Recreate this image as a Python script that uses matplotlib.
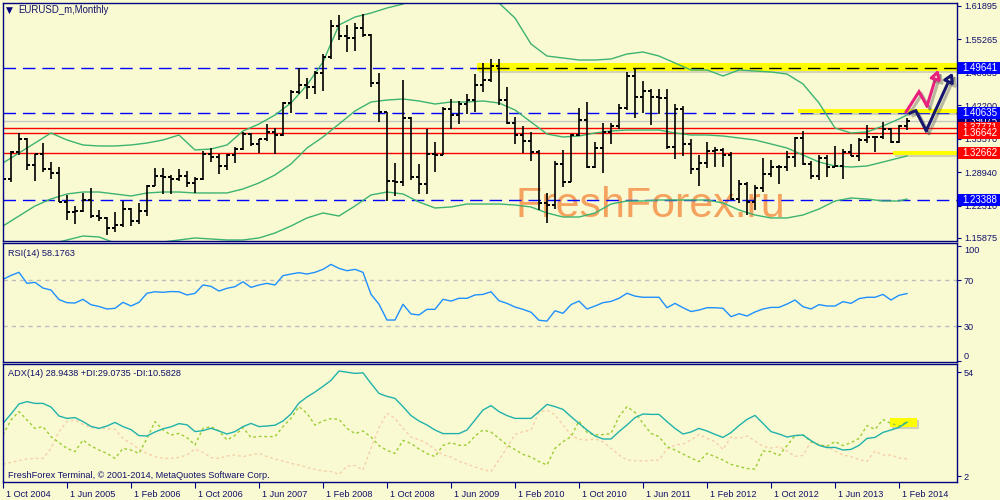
import numpy as np
import matplotlib
matplotlib.use('Agg')
import matplotlib.pyplot as plt
import matplotlib.patheffects as pe
from matplotlib.patches import Rectangle, FancyArrowPatch
from matplotlib.transforms import blended_transform_factory, ScaledTranslation

plt.rcParams['font.family'] = ['Liberation Sans', 'DejaVu Sans']

# monthly EURUSD bars, Oct 2004 .. Mar 2014
opens = [1.2417, 1.2755, 1.3295, 1.3554, 1.3036, 1.3259, 1.2962, 1.2868, 1.2302, 1.2097,
         1.2126, 1.2338, 1.2025, 1.1987, 1.1789, 1.1841, 1.2158, 1.1920, 1.2118, 1.2624,
         1.2813, 1.2790, 1.2764, 1.2813, 1.2683, 1.2763, 1.3248, 1.3200, 1.3021, 1.3232,
         1.3353, 1.3651, 1.3452, 1.3542, 1.3693, 1.3632, 1.4261, 1.4490, 1.4629, 1.4588,
         1.4858, 1.5176, 1.5786, 1.5592, 1.5550, 1.5754, 1.5612, 1.4670, 1.4083, 1.2720,
         1.2693, 1.3971, 1.2800, 1.2664, 1.3244, 1.3237, 1.4153, 1.4029, 1.4245, 1.4325,
         1.4632, 1.4722, 1.5002, 1.4321, 1.3863, 1.3630, 1.3511, 1.3292, 1.2272, 1.2238,
         1.3050, 1.2703, 1.3632, 1.3921, 1.2986, 1.3370, 1.3690, 1.3800, 1.4160, 1.4807,
         1.4389, 1.4505, 1.4385, 1.4370, 1.3387, 1.4139, 1.3447, 1.2958, 1.3075, 1.3317,
         1.3341, 1.3234, 1.2368, 1.2667, 1.2308, 1.2575, 1.2860, 1.2986, 1.2988, 1.3193,
         1.3579, 1.3060, 1.2820, 1.3166, 1.3002, 1.3010, 1.3302, 1.3220, 1.3524, 1.3585,
         1.3590, 1.3743, 1.3487, 1.3803]
highs = [1.2779, 1.3320, 1.3667, 1.3572, 1.3261, 1.3478, 1.3091, 1.2989, 1.2431, 1.2219,
         1.2473, 1.2588, 1.2150, 1.2011, 1.2093, 1.2323, 1.2191, 1.2287, 1.2629, 1.2980,
         1.2977, 1.2840, 1.2957, 1.2908, 1.2789, 1.3303, 1.3366, 1.3262, 1.3257, 1.3384,
         1.3682, 1.3660, 1.3542, 1.3852, 1.3778, 1.4281, 1.4528, 1.4967, 1.4752, 1.4900,
         1.5237, 1.5905, 1.6019, 1.5818, 1.5844, 1.6038, 1.5628, 1.4867, 1.4090, 1.3082,
         1.4720, 1.3988, 1.3056, 1.3740, 1.3483, 1.4193, 1.4337, 1.4303, 1.4446, 1.4844,
         1.5063, 1.5144, 1.5145, 1.4579, 1.3990, 1.3815, 1.3694, 1.3323, 1.2471, 1.3115,
         1.3334, 1.3650, 1.4158, 1.4282, 1.3500, 1.3860, 1.3861, 1.4250, 1.4882, 1.4940,
         1.4699, 1.4535, 1.4549, 1.4549, 1.4247, 1.4200, 1.3549, 1.3234, 1.3487, 1.3386,
         1.3381, 1.3284, 1.2747, 1.2692, 1.2638, 1.3171, 1.3140, 1.3029, 1.3308, 1.3590,
         1.3711, 1.3109, 1.3243, 1.3242, 1.3417, 1.3345, 1.3452, 1.3569, 1.3832, 1.3620,
         1.3893, 1.3775, 1.3825, 1.3967]
lows = [1.2290, 1.2693, 1.3225, 1.2936, 1.2727, 1.2888, 1.2764, 1.2297, 1.1953, 1.1868,
        1.2094, 1.1989, 1.1915, 1.1640, 1.1708, 1.1800, 1.1824, 1.1860, 1.2032, 1.2610,
        1.2457, 1.2459, 1.2716, 1.2608, 1.2483, 1.2743, 1.3100, 1.2866, 1.2935, 1.3068,
        1.3330, 1.3414, 1.3267, 1.3514, 1.3261, 1.3607, 1.4070, 1.4435, 1.4336, 1.4442,
        1.4496, 1.5138, 1.5516, 1.5285, 1.5304, 1.5577, 1.4583, 1.3882, 1.2329, 1.2424,
        1.2611, 1.2732, 1.2456, 1.2457, 1.2887, 1.3235, 1.3745, 1.3845, 1.4044, 1.4080,
        1.4480, 1.4672, 1.4220, 1.3857, 1.3444, 1.3267, 1.3115, 1.2143, 1.1876, 1.2152,
        1.2589, 1.2694, 1.3610, 1.2967, 1.2971, 1.2872, 1.3443, 1.3750, 1.4126, 1.3967,
        1.4069, 1.3836, 1.4050, 1.3358, 1.3145, 1.3211, 1.2858, 1.2624, 1.2972, 1.3003,
        1.3003, 1.2336, 1.2288, 1.2042, 1.2133, 1.2500, 1.2800, 1.2661, 1.2925, 1.3000,
        1.3036, 1.2750, 1.2745, 1.2795, 1.3000, 1.2755, 1.3219, 1.3105, 1.3480, 1.3295,
        1.3545, 1.3478, 1.3475, 1.3720]
closes = [1.2755, 1.3295, 1.3554, 1.3036, 1.3259, 1.2962, 1.2868, 1.2302, 1.2097, 1.2126,
          1.2338, 1.2025, 1.1987, 1.1789, 1.1841, 1.2158, 1.1920, 1.2118, 1.2624, 1.2813,
          1.2790, 1.2764, 1.2813, 1.2683, 1.2763, 1.3248, 1.3200, 1.3021, 1.3232, 1.3353,
          1.3651, 1.3452, 1.3542, 1.3693, 1.3632, 1.4261, 1.4490, 1.4629, 1.4588, 1.4858,
          1.5176, 1.5786, 1.5592, 1.5550, 1.5754, 1.5612, 1.4670, 1.4083, 1.2720, 1.2693,
          1.3971, 1.2800, 1.2664, 1.3244, 1.3237, 1.4153, 1.4029, 1.4245, 1.4325, 1.4632,
          1.4722, 1.5002, 1.4321, 1.3863, 1.3630, 1.3511, 1.3292, 1.2272, 1.2238, 1.3050,
          1.2703, 1.3632, 1.3921, 1.2986, 1.3370, 1.3690, 1.3800, 1.4160, 1.4807, 1.4389,
          1.4505, 1.4385, 1.4370, 1.3387, 1.4139, 1.3447, 1.2958, 1.3075, 1.3317, 1.3341,
          1.3234, 1.2368, 1.2667, 1.2308, 1.2575, 1.2860, 1.2986, 1.2988, 1.3193, 1.3579,
          1.3060, 1.2820, 1.3166, 1.3002, 1.3010, 1.3302, 1.3220, 1.3524, 1.3585, 1.3590,
          1.3743, 1.3487, 1.3803, 1.3907]

# bollinger bands every second bar
bb_idx = list(range(0, 113, 2)) + [113]
bb_up = [1.3075, 1.3273, 1.3471, 1.3670, 1.3531, 1.3432, 1.3412, 1.3412, 1.3432, 1.3471,
         1.3531, 1.3630, 1.3333, 1.3352, 1.3432, 1.3709, 1.3848, 1.4027, 1.4265, 1.4622,
         1.5078, 1.5813, 1.5971, 1.6050, 1.6150, 1.6229, 1.6400, 1.6550, 1.6600, 1.6550,
         1.6400, 1.6249, 1.5951, 1.5436, 1.5197, 1.5158, 1.5118, 1.5118, 1.5138, 1.5237,
         1.5277, 1.5197, 1.5058, 1.4920, 1.4920, 1.4801, 1.4920, 1.4900, 1.4880, 1.4840,
         1.4642, 1.4265, 1.3769, 1.3670, 1.3690, 1.3809, 1.3948, 1.4027]
bb_mid = [1.1825, 1.2023, 1.2222, 1.2361, 1.2460, 1.2499, 1.2499, 1.2460, 1.2420, 1.2480,
          1.2499, 1.2499, 1.2480, 1.2480, 1.2480, 1.2559, 1.2678, 1.2837, 1.3055, 1.3372,
          1.3591, 1.3848, 1.4106, 1.4285, 1.4324, 1.4344, 1.4305, 1.4245, 1.4285, 1.4285,
          1.4305, 1.4265, 1.4126, 1.3888, 1.3650, 1.3591, 1.3610, 1.3670, 1.3709, 1.3729,
          1.3729, 1.3729, 1.3670, 1.3630, 1.3630, 1.3610, 1.3571, 1.3531, 1.3452, 1.3372,
          1.3233, 1.3094, 1.3015, 1.2995, 1.3015, 1.3094, 1.3174, 1.3214]
bb_low = [1.1150, 1.1230, 1.1349, 1.1468, 1.1547, 1.1626, 1.1607, 1.1488, 1.1428, 1.1448,
          1.1507, 1.1547, 1.1587, 1.1567, 1.1547, 1.1547, 1.1587, 1.1686, 1.1825, 1.1984,
          1.2083, 1.2023, 1.2222, 1.2440, 1.2499, 1.2460, 1.2301, 1.2182, 1.2202, 1.2261,
          1.2261, 1.2261, 1.2241, 1.2202, 1.2083, 1.2003, 1.2003, 1.2083, 1.2261, 1.2321,
          1.2321, 1.2340, 1.2340, 1.2340, 1.2340, 1.2281, 1.2142, 1.2043, 1.1984, 1.1984,
          1.2043, 1.2162, 1.2321, 1.2380, 1.2360, 1.2321, 1.2321, 1.2360]

rsi = [70.6, 74.0, 76.7, 67.1, 68.0, 63.0, 61.3, 53.0, 50.3, 50.0,
       53.2, 48.5, 47.0, 44.8, 45.4, 50.6, 47.4, 50.6, 58.5, 59.8,
       59.3, 60.0, 59.8, 57.0, 58.4, 65.7, 64.5, 60.4, 62.8, 64.2,
       68.5, 63.6, 65.7, 67.1, 65.7, 73.8, 75.2, 76.4, 75.2, 76.7,
       79.3, 83.6, 80.1, 78.1, 79.3, 76.7, 57.6, 49.0, 35.2, 35.2,
       48.9, 40.5, 39.6, 44.5, 44.5, 53.2, 51.7, 54.1, 54.1, 57.0,
       57.5, 59.8, 52.0, 49.7, 46.5, 44.5, 42.0, 35.0, 34.3, 43.3,
       41.0, 48.6, 51.7, 44.8, 47.4, 50.3, 51.4, 54.1, 58.5, 56.0,
       55.0, 55.0, 55.0, 45.9, 49.7, 45.9, 42.6, 43.9, 45.9, 45.9,
       45.4, 38.1, 40.7, 38.7, 42.2, 44.8, 46.2, 46.2, 49.1, 52.6,
       46.8, 44.8, 48.6, 47.4, 47.4, 51.2, 49.7, 53.8, 55.0, 55.0,
       57.5, 52.6, 56.7, 58.2]

adx = [28.3, 33.0, 38.0, 39.2, 38.3, 38.3, 36.5, 32.0, 30.8, 31.2,
       29.2, 26.8, 25.8, 27.0, 28.8, 26.7, 25.2, 22.2, 22.0, 24.0,
       25.6, 26.6, 28.2, 27.6, 24.2, 24.7, 25.9, 24.5, 23.0, 24.2,
       26.7, 28.3, 26.7, 27.0, 27.4, 29.5, 33.0, 38.5, 41.5, 44.0,
       46.8, 49.8, 54.5, 53.9, 53.3, 53.6, 48.3, 43.3, 41.8, 40.8,
       36.7, 32.2, 29.5, 27.5, 25.0, 23.2, 23.2, 23.2, 25.0, 30.0,
       35.0, 37.2, 34.2, 32.2, 30.8, 30.8, 30.8, 34.2, 37.8, 36.7,
       35.3, 31.7, 28.3, 25.0, 22.0, 20.5, 20.5, 24.2, 27.5, 31.2,
       33.0, 32.8, 32.8, 29.2, 25.8, 23.0, 24.0, 25.8, 24.5, 22.8,
       21.3, 23.7, 27.2, 30.3, 32.3, 28.3, 24.2, 23.0, 21.5, 22.2,
       22.5, 19.7, 17.3, 16.2, 16.3, 15.0, 15.3, 17.3, 20.8, 21.3,
       23.8, 25.0, 26.3, 28.9]
plus_di = [22.5, 30.0, 34.2, 30.0, 25.8, 26.7, 21.7, 18.7, 15.8, 14.2,
           20.0, 17.0, 15.0, 13.3, 10.8, 15.8, 15.0, 13.3, 20.8, 29.2,
           25.0, 22.5, 23.3, 21.2, 17.5, 25.8, 26.7, 24.5, 20.0, 22.3,
           26.2, 21.3, 21.8, 21.7, 21.7, 26.7, 30.8, 36.7, 33.3, 27.5,
           29.5, 30.7, 30.3, 25.8, 23.2, 24.5, 21.5, 17.2, 14.8, 13.3,
           19.8, 18.3, 15.5, 13.2, 11.7, 17.3, 18.7, 17.3, 17.5, 22.0,
           25.0, 24.0, 20.8, 17.5, 15.2, 12.8, 11.5, 9.2, 7.5, 15.8,
           19.2, 21.7, 29.5, 23.8, 22.5, 22.7, 23.2, 31.7, 36.7, 33.8,
           28.3, 23.3, 21.7, 16.7, 15.0, 13.0, 11.0, 9.2, 13.3, 11.7,
           10.0, 7.8, 6.8, 5.7, 5.5, 14.5, 14.2, 12.2, 17.2, 22.2,
           22.5, 19.2, 17.7, 16.8, 19.2, 17.2, 18.7, 20.8, 27.2, 25.3,
           30.2, 28.3, 27.0, 29.1]
minus_di = [7.8, 8.8, 9.7, 10.5, 10.8, 10.8, 15.8, 24.2, 29.2, 30.0,
            27.8, 26.2, 25.8, 25.8, 25.3, 20.8, 18.3, 15.5, 13.2, 11.7,
            10.8, 10.8, 11.3, 12.5, 15.5, 13.8, 11.2, 10.8, 12.0, 12.5,
            11.7, 12.5, 13.3, 11.7, 10.5, 9.5, 8.3, 7.5, 6.3, 5.3,
            4.5, 4.2, 2.8, 7.0, 7.2, 5.0, 15.8, 26.2, 33.3, 30.8,
            25.8, 21.5, 20.2, 18.2, 15.3, 12.5, 11.5, 9.3, 8.0, 6.5,
            5.3, 4.2, 10.0, 16.2, 22.8, 24.2, 25.0, 33.8, 35.0, 32.5,
            27.5, 22.5, 20.3, 20.0, 20.5, 19.2, 15.8, 12.5, 10.0, 9.7,
            9.5, 9.8, 10.0, 15.5, 17.5, 18.0, 20.0, 22.8, 20.8, 19.2,
            15.2, 21.5, 20.8, 22.0, 19.5, 16.8, 16.0, 16.7, 14.5, 11.8,
            12.3, 19.2, 17.7, 16.7, 14.5, 12.5, 11.7, 10.2, 9.3, 14.5,
            12.5, 12.5, 11.0, 10.6]

date_idx = list(range(0, 113, 8))
date_labels = ['1 Oct 2004', '1 Jun 2005', '1 Feb 2006', '1 Oct 2006', '1 Jun 2007',
               '1 Feb 2008', '1 Oct 2008', '1 Jun 2009', '1 Feb 2010', '1 Oct 2010',
               '1 Jun 2011', '1 Feb 2012', '1 Oct 2012', '1 Jun 2013', '1 Feb 2014']
price_ticks = [1.61895, 1.55265, 1.48635, 1.42200, 1.35570, 1.28940, 1.22310, 1.15875]

red_levels = [1.37771, 1.36642, 1.32662]
blue_levels = [1.49641, 1.40635, 1.23388]
bid = 1.39075

# forecast arrows drawn on the chart (bar index, price)
pink_x = [112.9, 114.5, 115.5, 116.9]
pink_y = [1.4092, 1.4489, 1.4205, 1.4925]
navy_x = [113.4, 114.1, 115.4, 118.7]
navy_y = [1.4067, 1.4112, 1.3715, 1.4866]

bg = '#FAFAD2'
navy = '#000080'
txt = '#10106a'
green = '#3CB371'
fs = 6.6

fig = plt.figure(figsize=(10, 5), dpi=100, facecolor=bg)
L, W = 0.0025, 0.9545
ax = fig.add_axes([L, 0.518, W, 0.476], facecolor=bg)
ax_rsi = fig.add_axes([L, 0.276, W, 0.238], facecolor=bg)
ax_adx = fig.add_axes([L, 0.036, W, 0.236], facecolor=bg)

for a in (ax, ax_rsi, ax_adx):
    a.set_xlim(-0.06, 119.25)
    for s in a.spines.values():
        s.set_color(navy)
        s.set_linewidth(1)
    a.yaxis.tick_right()
    a.tick_params(axis='y', length=3, width=0.8, color=navy, labelcolor=txt,
                  labelsize=fs, pad=2, direction='out')
    a.tick_params(axis='x', bottom=False, labelbottom=False)

# ---------------- price panel
ax.set_ylim(1.1527, 1.6249)
ax.set_yticks(price_ticks)
ax.set_yticklabels(['%.5f' % p for p in price_ticks])

ax.text(80.9, 1.2003, 'FreshForex.ru', fontsize=31, color='#F5A25E',
        ha='center', va='baseline', zorder=0.5)

ax.axhline(bid, color='#C8C8C8', lw=1, zorder=1)
for lv in red_levels:
    ax.axhline(lv, color='#FF0000', lw=1, zorder=1.2)
for lv in blue_levels:
    ax.axhline(lv, color='#0000FF', lw=1, ls=(0, (9, 5)), zorder=1.2)

shadow = [pe.withSimplePatchShadow(offset=(1.5, -1.5), shadow_rgbFace='#8a8a8a', alpha=0.35)]
ax.add_patch(Rectangle((59.25, 1.4901), 61, 0.0152, fc='#FFFF00', ec='none',
                       zorder=1.4, path_effects=shadow))
ax.add_patch(Rectangle((99.4, 1.4068), 21, 0.0080, fc='#FFFF00', ec='none',
                       zorder=1.4, path_effects=shadow))
ax.add_patch(Rectangle((111.3, 1.3228), 9, 0.0092, fc='#FFFF00', ec='none',
                       zorder=1.4, path_effects=shadow))
ax.plot([59.25, 119.25], [1.49641, 1.49641], color='black', lw=1,
        ls=(0, (9, 5)), zorder=1.5)

ax.plot(bb_idx, bb_up, color=green, lw=1, zorder=1.6)
ax.plot(bb_idx, bb_mid, color=green, lw=1, zorder=1.6)
ax.plot(bb_idx, bb_low, color=green, lw=1, zorder=1.6)

idx = np.arange(len(closes))
ax.vlines(idx, lows, highs, color='black', lw=1.2, zorder=2)
ax.hlines(opens, idx - 0.42, idx, color='black', lw=1.2, zorder=2, antialiased=False)
ax.hlines(closes, idx, idx + 0.42, color='black', lw=1.2, zorder=2, antialiased=False)

line_shadow = [pe.SimpleLineShadow(offset=(2, -2), shadow_color='#555555', alpha=0.4), pe.Normal()]
for xs, ys, col in ((pink_x, pink_y, '#E8207E'), (navy_x, navy_y, '#16166E')):
    ax.plot(xs[:-1], ys[:-1], color=col, lw=2.2, zorder=3, solid_joinstyle='miter',
            path_effects=line_shadow)
    arr = FancyArrowPatch((xs[-2], ys[-2]), (xs[-1], ys[-1]),
                          arrowstyle='-|>,head_length=5,head_width=3',
                          color=col, lw=2.2, fc=bg, zorder=3, shrinkA=0, shrinkB=0,
                          mutation_scale=1, path_effects=line_shadow)
    ax.add_patch(arr)

fig.text(0.0055, 1 - 10 / 500, '\u25bc', fontsize=6.5, color=navy, va='center',
         family=['DejaVu Sans'])
fig.text(0.018, 1 - 10 / 500, 'EURUSD_m,Monthly', fontsize=fs + 0.3, color=txt, va='center')

# right-axis price boxes (navy bid, then red/blue levels on top)
tr = blended_transform_factory(fig.transFigure, ax.transData)
boxes = [(bid, navy), (1.37771, '#FF0000'), (1.40635, '#0000FF'), (1.36642, '#FF0000'),
         (1.49641, '#0000FF'), (1.32662, '#FF0000'), (1.23388, '#0000FF')]
hh = 12 / 504
for k, (val, col) in enumerate(boxes):
    r = Rectangle((0.958, val - hh / 2), 0.05, hh, transform=tr, fc=col, ec='none',
                  clip_on=False, zorder=5 + k)
    fig.add_artist(r)
    fig.text(0.962, val, '%.5f' % val, transform=tr, fontsize=fs + 0.4, color='white',
             va='center', ha='left', zorder=5 + k + 0.5)

# ---------------- RSI panel
ax_rsi.set_ylim(-1.3, 102.2)
ax_rsi.axhline(70, color='#BDBDBD', lw=1, ls=(0, (3, 3)))
ax_rsi.axhline(30, color='#BDBDBD', lw=1, ls=(0, (3, 3)))
ax_rsi.plot(idx, rsi, color='#1E90FF', lw=1)
ax_rsi.set_yticks([100, 70, 30, 0])
ax_rsi.set_yticklabels(['100', '70', '30', '0'])
lbls = ax_rsi.get_yticklabels()
lbls[0].set_va('top')
lbls[3].set_va('bottom')
fig.text(0.008, 1 - 253 / 500, 'RSI(14) 58.1763', fontsize=fs, color=txt, va='center')

# ---------------- ADX panel
ax_adx.set_ylim(-1, 58)
ax_adx.add_patch(Rectangle((110.9, 26.5), 3.35, 4.5, fc='#FFFF00', ec='none',
                           zorder=1.5, path_effects=shadow))
ax_adx.plot(idx, minus_di, color='#F5CFA8', lw=1, ls=(0, (2, 2)), zorder=2)
ax_adx.plot(idx, plus_di, color='#9ACD32', lw=1, ls=(0, (2, 2)), zorder=2)
ax_adx.plot(idx, adx, color='#20B2AA', lw=1, zorder=2.1)
ax_adx.set_yticks([54, 2])
ax_adx.set_yticklabels(['54', '2'])
fig.text(0.008, 1 - 374 / 500, 'ADX(14) 28.9438 +DI:29.0735 -DI:10.5828', fontsize=fs,
         color=txt, va='center')
fig.text(0.008, 1 - 475 / 500, 'FreshForex Terminal, \u00a9 2001-2014, MetaQuotes Software Corp.',
         fontsize=fs, color=txt, va='center')

ax_adx.tick_params(axis='x', bottom=True, labelbottom=True, length=4, width=0.8,
                   color=navy, labelcolor=txt, labelsize=fs, pad=1.5)
ax_adx.set_xticks(date_idx)
ax_adx.set_xticklabels(date_labels, ha='left')
off = ScaledTranslation(3 / 100, 0, fig.dpi_scale_trans)
for lab in ax_adx.get_xticklabels():
    lab.set_transform(lab.get_transform() + off)

fig.savefig('out.png', dpi=100, facecolor=bg)
